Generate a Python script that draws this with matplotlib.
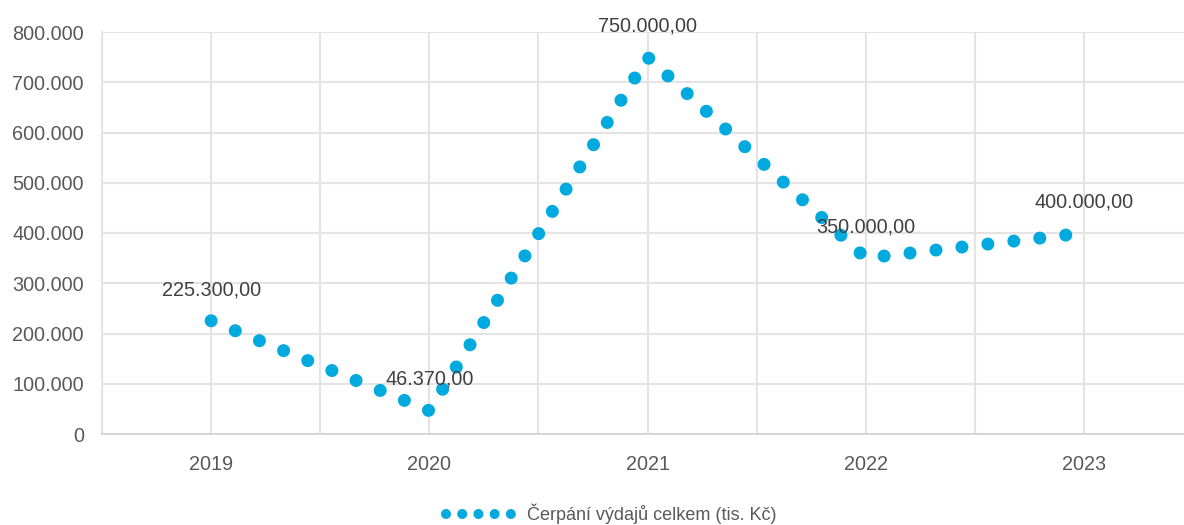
import matplotlib
matplotlib.use("Agg")
import matplotlib.pyplot as plt
from matplotlib.lines import Line2D
from matplotlib.ticker import FuncFormatter, MultipleLocator

years = ["2019", "2020", "2021", "2022", "2023"]
values = [225300.00, 46370.00, 750000.00, 350000.00, 400000.00]
series_name = "Čerpání výdajů celkem (tis. Kč)"

blue = "#00A9DE"
grid_c = "#E4E4E4"
txt_c = "#595959"
lbl_c = "#404040"

plt.rcParams["font.family"] = ["Liberation Sans", "DejaVu Sans"]
plt.rcParams["font.size"] = 14

fig = plt.figure(figsize=(11.84, 5.25), dpi=100)
ax = fig.add_axes([102 / 1184, 1 - 434 / 525, 1082 / 1184, 402 / 525])

x = list(range(len(years)))
ax.plot(x, values, color=blue, lw=9.4, linestyle=(0, (0.001, 2.0)),
        dash_capstyle="round", clip_on=False, zorder=3)

for xi, v in zip(x, values):
    s = "{:,.2f}".format(v).replace(",", " ").replace(".", ",").replace(" ", ".")
    ax.annotate(s, (xi, v), xytext=(0, 22.5), textcoords="offset points",
                ha="center", va="center", color=lbl_c, fontsize=14.3, zorder=4)

ax.set_xlim(-0.5, 4.458)
ax.set_ylim(0, 800000)
ax.set_xticks(x)
ax.set_xticklabels(years)
ax.xaxis.set_minor_locator(MultipleLocator(0.5))
ax.yaxis.set_major_locator(MultipleLocator(100000))
ax.yaxis.set_major_formatter(FuncFormatter(lambda v, p: "{:,}".format(int(v)).replace(",", ".")))

ax.grid(True, which="both", axis="x", color=grid_c, lw=1.5)
ax.grid(True, which="major", axis="y", color=grid_c, lw=1.5)
ax.set_axisbelow(True)
ax.tick_params(which="both", length=0, colors=txt_c, labelsize=14.3)
ax.tick_params(axis="y", pad=13)
ax.tick_params(axis="x", pad=15)

for k in ["top", "right"]:
    ax.spines[k].set_visible(False)
ax.spines["left"].set_color(grid_c)
ax.spines["left"].set_linewidth(1.5)
ax.spines["bottom"].set_color("#D6D6D6")
ax.spines["bottom"].set_linewidth(1.5)

h = Line2D([], [], color=blue, lw=7.2, linestyle=(0, (0.001, 1.62)), dash_capstyle="round")
fig.legend([h], [series_name], loc="center", bbox_to_anchor=(611 / 1184, 1 - 514 / 525),
           frameon=False, handlelength=3.68, handletextpad=0.8, labelcolor=txt_c, fontsize=13)

fig.savefig("out.png", dpi=100)
